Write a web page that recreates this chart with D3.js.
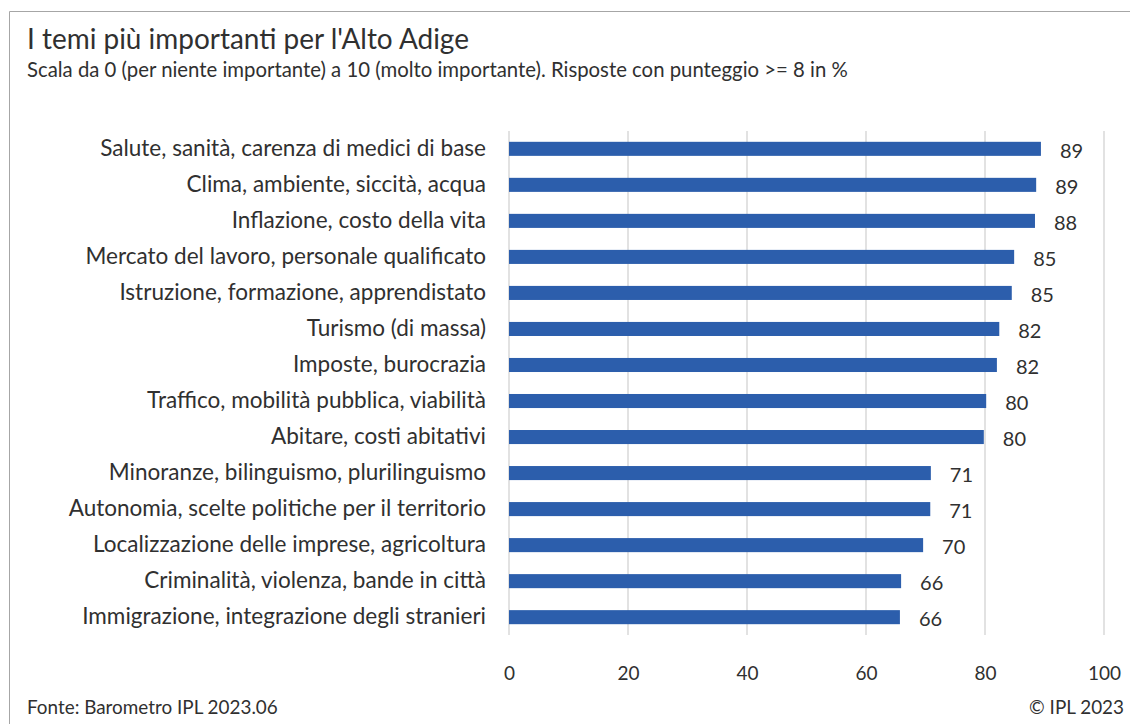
<!DOCTYPE html>
<html lang="it">
<head>
<meta charset="UTF-8">
<title>I temi più importanti per l'Alto Adige</title>
<style>
  body { margin: 0; background: #fff; }
  svg text { font-family: Lato, "Noto Sans", sans-serif; fill: #303030; }
</style>
</head>
<body>
<script src="https://d3js.org/d3.v7.min.js"></script>
<script>
var categories = [
  "Salute, sanità, carenza di medici di base",
  "Clima, ambiente, siccità, acqua",
  "Inflazione, costo della vita",
  "Mercato del lavoro, personale qualificato",
  "Istruzione, formazione, apprendistato",
  "Turismo (di massa)",
  "Imposte, burocrazia",
  "Traffico, mobilità pubblica, viabilità",
  "Abitare, costi abitativi",
  "Minoranze, bilinguismo, plurilinguismo",
  "Autonomia, scelte politiche per il territorio",
  "Localizzazione delle imprese, agricoltura",
  "Criminalità, violenza, bande in città",
  "Immigrazione, integrazione degli stranieri"
];
var values = [89.4, 88.6, 88.4, 84.9, 84.5, 82.4, 82.0, 80.2, 79.8, 70.9, 70.8, 69.6, 65.9, 65.7];
var ticks = [0, 20, 40, 60, 80, 100];

var width = 1130, height = 724;
var svg = d3.select('body').append('svg')
    .attr('width', width)
    .attr('height', height);

// font size so that a string is a given width wide
function fitSize(str, target) {
    var t = svg.append('text').style('font-size', '100px').text(str);
    var w = t.node().getComputedTextLength();
    t.remove();
    return 100 * target / w;
}

// frame
svg.append('path')
    .attr('d', 'M9.5,' + height + 'V11.5H' + width)
    .attr('fill', 'none')
    .attr('stroke', '#a6a6a6');

var title = "I temi più importanti per l'Alto Adige";
svg.append('text')
    .attr('x', 27).attr('y', 49)
    .style('font-size', fitSize(title, 442) + 'px')
    .text(title);

var subtitle = "Scala da 0 (per niente importante) a 10 (molto importante). Risposte con punteggio >= 8 in %";
svg.append('text')
    .attr('x', 27).attr('y', 77)
    .style('font-size', fitSize(subtitle, 821) + 'px')
    .text(subtitle);

var xScale = d3.scaleLinear().domain([0, 100]).range([509, 1104]);
var yScale = d3.scaleBand().domain(categories).range([131, 635]).paddingInner(0.61).paddingOuter(0.3);

// grid
svg.append('g').selectAll('line')
    .data(ticks)
    .enter().append('line')
    .attr('x1', function(d) { return xScale(d); })
    .attr('x2', function(d) { return xScale(d); })
    .attr('y1', 131).attr('y2', 635)
    .attr('stroke', '#d9d9d9')
    .attr('stroke-width', 1.5);

// bars
svg.append('g').selectAll('rect')
    .data(values)
    .enter().append('rect')
    .attr('x', xScale(0))
    .attr('y', function(d, i) { return yScale(categories[i]); })
    .attr('width', function(d) { return xScale(d) - xScale(0); })
    .attr('height', yScale.bandwidth())
    .attr('fill', '#2c5eac');

// value labels
svg.append('g').selectAll('text')
    .data(values)
    .enter().append('text')
    .attr('x', function(d) { return xScale(d) + 19; })
    .attr('y', function(d, i) { return yScale(categories[i]) + yScale.bandwidth() / 2 + 2; })
    .attr('dy', '0.35em')
    .style('font-size', '20px')
    .text(function(d) { return Math.round(d); });

// category axis
var catSize = fitSize(categories[0], 386);
var yAxis = d3.axisLeft(yScale).tickSize(0).tickPadding(23);
var gy = svg.append('g')
    .attr('transform', 'translate(' + xScale(0) + ',0)')
    .call(yAxis);
gy.select('.domain').remove();
gy.selectAll('text').style('font-size', catSize + 'px').style('font-family', null).style('fill', '#303030');
gy.attr('font-family', null);

// x axis
var xAxis = d3.axisBottom(xScale).tickValues(ticks).tickSize(0).tickPadding(12);
var gx = svg.append('g')
    .attr('transform', 'translate(0,655)')
    .call(xAxis);
gx.select('.domain').remove();
gx.attr('font-family', null);
gx.selectAll('text').style('font-size', '19px');

var source = 'Fonte: Barometro IPL 2023.06';
var footSize = fitSize(source, 251);
svg.append('text')
    .attr('x', 27).attr('y', 714)
    .style('font-size', footSize + 'px')
    .text(source);

svg.append('text')
    .attr('x', 1124).attr('y', 714)
    .attr('text-anchor', 'end')
    .style('font-size', footSize + 'px')
    .text('© IPL 2023');
</script>
</body>
</html>
